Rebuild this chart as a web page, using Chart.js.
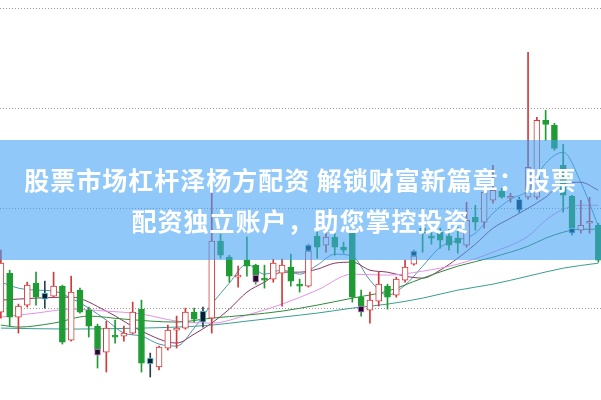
<!DOCTYPE html>
<html>
<head>
<meta charset="utf-8">
<script src="https://cdn.jsdelivr.net/npm/chart.js@4.4.1/dist/chart.umd.min.js"></script>
<style>
  html, body { margin: 0; padding: 0; background: #fff; }
  #wrap { position: relative; width: 601px; height: 400px; overflow: hidden; }
  #kChart { display: block; }
  #banner {
    position: absolute; left: 0; top: 140px; width: 601px; height: 120px;
    background: rgba(64, 160, 245, 0.58);
    color: #fff; font-family: "Noto Sans CJK SC", sans-serif; font-weight: bold;
    font-size: 25px; letter-spacing: 1px; line-height: 41px; text-align: center;
    display: flex; flex-direction: column; justify-content: center;
  }
</style>
</head>
<body>
<div id="wrap">
  <canvas id="kChart" width="601" height="400"></canvas>
  <div id="banner">
    <div>股票市场杠杆泽杨方配资 解锁财富新篇章：股票</div>
    <div>配资独立账户，助您掌控投资</div>
  </div>
</div>
<script>
// candles, left to right
const opens = [9.96,10.35,9.91,10.03,10.25,10.15,10.12,10.22,9.68,10.18,
  9.98,9.82,9.56,9.73,9.72,9.75,9.99,9.50,9.41,9.60,
  9.78,9.80,9.96,9.97,9.90,10.67,10.51,10.31,10.48,10.43,
  10.30,10.29,10.35,10.41,10.24,10.22,10.72,10.63,10.71,10.61,
  10.75,10.11,9.98,10.07,10.22,10.13,10.28,10.44,10.80,10.72,
  10.76,10.72,10.70,10.63,10.91,10.86,11.08,11.17,11.10,11.09,
  11.11,11.11,11.88,11.83,11.43,11.12,10.78,10.85,10.83];
const highs = [10.58,10.38,10.04,10.26,10.36,10.27,10.36,10.23,10.32,10.20,
  10.01,9.84,9.87,9.88,9.82,10.06,10.08,9.55,9.62,9.83,
  9.92,10.00,10.00,10.01,11.26,10.74,10.53,10.42,10.71,10.44,
  10.43,10.49,10.49,10.54,10.29,10.64,10.76,10.78,10.78,10.66,
  10.75,10.18,10.16,10.36,10.24,10.31,10.48,10.58,10.82,10.78,
  10.80,10.80,10.81,11.06,11.03,11.23,11.43,11.20,11.15,11.11,
  12.56,11.91,11.98,11.85,11.64,11.13,11.08,11.11,10.85];
const lows = [9.90,9.82,9.75,10.01,10.03,10.00,10.11,9.64,9.67,9.95,
  9.71,9.40,9.36,9.65,9.67,9.74,9.36,9.31,9.38,9.58,
  9.60,9.79,9.86,9.81,9.75,10.50,10.26,10.21,10.32,10.24,
  10.20,10.26,10.02,10.22,10.16,10.21,10.50,10.56,10.53,10.55,
  10.06,9.92,9.85,10.02,9.99,10.11,10.26,10.43,10.56,10.64,
  10.60,10.58,10.55,10.61,10.78,10.80,11.05,11.10,11.06,10.96,
  11.09,11.09,11.68,11.58,10.96,10.73,10.75,10.75,10.46];
const closes = [10.45,9.91,10.02,10.23,10.11,10.09,10.22,9.66,10.16,9.96,
  9.82,9.58,9.80,9.71,9.75,9.96,9.45,9.44,9.61,9.78,
  9.80,9.96,9.89,9.86,10.67,10.53,10.32,10.32,10.42,10.33,
  10.28,10.45,10.43,10.27,10.22,10.57,10.61,10.71,10.61,10.58,
  10.11,10.02,10.08,10.24,10.11,10.29,10.41,10.52,10.75,10.70,
  10.68,10.63,10.65,10.88,10.86,11.16,11.18,11.11,11.12,10.98,
  11.41,11.88,11.84,11.60,11.13,10.80,10.83,10.86,10.48];
// u = up (hollow red), d = down (green), c = highlighted dark box
const kinds = ["u","d","u","u","d","c","u","d","u","d",
  "d","d","u","d","u","u","d","c","u","u",
  "u","u","d","c","u","d","d","u","d","d",
  "d","u","u","d","d","u","d","u","d","d",
  "d","d","u","u","d","u","u","u","d","d",
  "d","d","d","u","d","u","u","d","u","c",
  "u","u","d","d","d","d","u","u","d"];

// small highlight boxes sitting on some candles
const markIdx = [11, 29, 35, 41, 47, 65];
const markLow = [9.53, 10.26, 10.57, 9.96, 10.52, 10.75];
const markHigh = [9.59, 10.33, 10.63, 10.02, 10.57, 10.80];
const markKind = ["p", "p", "c", "p", "c", "c"];

// moving average lines, read at some candles
const ma5At = [0,2,4,6,8,10,12,14,16,18,20,22,24,26,28,30,32,34,36,38,40,42,44,46,48,50,52,54,56,58,60,62,64,66,68];
const ma5 = [10.26,10.20,10.18,10.17,10.10,10.00,9.88,9.75,9.72,9.64,9.62,9.80,10.04,10.25,10.44,10.34,10.38,10.34,10.43,10.54,10.52,10.28,10.13,10.23,10.42,10.61,10.68,10.75,10.95,11.09,11.18,11.45,11.56,11.26,10.82];
const ma10At = [0,4,8,12,16,20,22,24,26,28,30,32,34,36,38,40,42,44,46,48,50,52,54,56,58,60,62,64,66,68];
const ma10 = [10.08,10.10,10.11,9.97,9.77,9.65,9.74,9.85,9.99,10.16,10.26,10.36,10.36,10.39,10.45,10.46,10.38,10.36,10.32,10.30,10.38,10.50,10.64,10.80,10.90,11.00,11.11,11.25,11.26,11.18];
const ma20At = [0,4,8,12,16,20,24,28,32,36,40,44,48,52,56,60,62,64,66,68];
const ma20 = [9.91,9.95,9.99,9.97,9.94,9.87,9.85,9.93,10.04,10.18,10.34,10.33,10.37,10.44,10.56,10.72,10.88,10.99,11.03,11.03];
const ma30At = [0,2,6,10,14,20,24,28,32,36,40,44,48,52,56,60,62,64,66,68];
const ma30 = [9.83,9.81,9.85,9.92,9.89,9.86,9.90,9.93,9.97,10.03,10.10,10.17,10.30,10.42,10.51,10.62,10.70,10.76,10.79,10.79];
const ma60At = [0,8,16,20,24,28,32,36,40,44,48,52,56,60,64,68];
const ma60 = [9.80,9.79,9.80,9.81,9.83,9.87,9.91,9.95,10.00,10.04,10.10,10.18,10.24,10.32,10.40,10.45];

const gridTicks = [10, 11, 12, 13];

const colors = {
    u: { fill: "#ffffff", edge: "#d23a3a", wick: "#d23a3a" },
    d: { fill: "#1f9b33", edge: "#1f9b33", wick: "#1f9b33" },
    c: { fill: "#0f1b28", edge: "#5fd3e3", wick: "#2a4050" },
    p: { fill: "#1a1020", edge: "#e07ae6", wick: "#1a1020" }
};

function points(at, vals) {
    return at.map((x, i) => ({ x: x, y: vals[i] }));
}

function maLine(at, vals, color) {
    return {
        type: "line",
        data: points(at, vals),
        borderColor: color,
        borderWidth: 1,
        pointRadius: 0,
        cubicInterpolationMode: "monotone",
        spanGaps: true,
        order: 5
    };
}

document.addEventListener("DOMContentLoaded", function () {
    let ctx = document.getElementById("kChart").getContext("2d");
    new Chart(ctx, {
        type: "bar",
        data: {
            datasets: [
                maLine(ma60At, ma60, "#3a9e94"),
                maLine(ma30At, ma30, "#2f8a3c"),
                maLine(ma20At, ma20, "#e592e6"),
                maLine(ma10At, ma10, "#8a3566"),
                maLine(ma5At, ma5, "#4d94ad"),
                {
                    data: opens.map((o, i) => ({ x: i, y: [lows[i], highs[i]] })),
                    backgroundColor: kinds.map(k => colors[k].wick),
                    barThickness: 1,
                    grouped: false,
                    order: 3
                },
                {
                    data: opens.map((o, i) => ({ x: i, y: [o, closes[i]] })),
                    backgroundColor: kinds.map(k => colors[k].fill),
                    borderColor: kinds.map(k => colors[k].edge),
                    borderWidth: 1,
                    borderSkipped: false,
                    barThickness: 6,
                    minBarLength: 2,
                    grouped: false,
                    order: 2
                },
                {
                    data: markIdx.map((x, i) => ({ x: x, y: [markLow[i], markHigh[i]] })),
                    backgroundColor: markKind.map(k => colors[k].fill),
                    borderColor: markKind.map(k => colors[k].edge),
                    borderWidth: 1,
                    borderSkipped: false,
                    barThickness: 6,
                    grouped: false,
                    order: 1
                }
            ]
        },
        options: {
            responsive: false,
            animation: false,
            layout: { padding: 0 },
            plugins: { legend: { display: false }, tooltip: { enabled: false } },
            scales: {
                x: { type: "linear", min: -0.1, max: 68.3, offset: false, display: false },
                y: {
                    min: 9.08,
                    max: 13.085,
                    ticks: { display: false, includeBounds: false },
                    grid: { color: "#9a9a9a", lineWidth: 1, drawTicks: false },
                    border: { display: false, dash: [1, 2] },
                    afterBuildTicks: function (scale) {
                        scale.ticks = gridTicks.map(v => ({ value: v }));
                    }
                }
            }
        }
    });
});
</script>
</body>
</html>
